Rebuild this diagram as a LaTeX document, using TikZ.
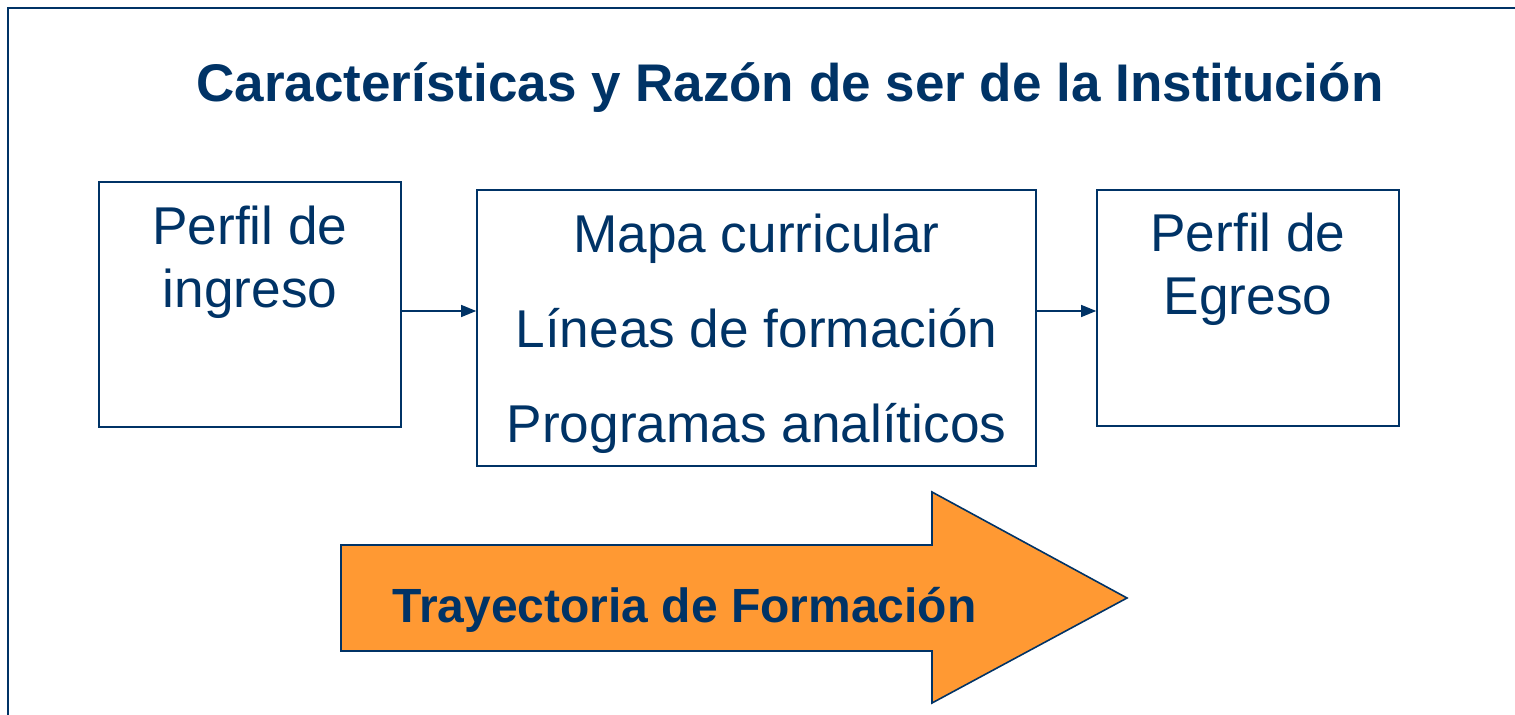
\documentclass[tikz,border=0pt]{standalone}
\usepackage{fontspec}
\setmainfont{Liberation Sans}
\usetikzlibrary{arrows.meta}
\definecolor{azul}{RGB}{0,51,102}
\definecolor{naranja}{RGB}{255,153,51}
\newcommand{\txt}{\fontsize{26.6}{31}\selectfont}

\begin{document}
\begin{tikzpicture}[x=0.5pt,y=-0.5pt,
   caja/.style={draw=azul,line width=0.8pt,inner sep=0pt},
   linea/.style={text=azul,inner sep=0pt,anchor=base,font=\txt},
   flecha/.style={draw=azul,line width=0.6pt,-{Triangle[length=7.5pt,width=6pt]}}]
   \useasboundingbox (0,0) rectangle (1515,715);
   \draw[azul,line width=1pt] (8,730) -- (8,8) -- (1530,8);
   \node[text=azul,inner sep=0pt,anchor=base,font=\bfseries\fontsize{26.5}{31}\selectfont]
      (titulo) at (790,102) {Características y Razón de ser de la Institución};
   \node[caja,minimum width=151pt,minimum height=122.5pt] (ingreso) at (250,304.5) {};
   \node[caja,minimum width=279.5pt,minimum height=138pt] (mapa) at (756.5,328) {};
   \node[caja,minimum width=151pt,minimum height=118pt] (egreso) at (1248,308) {};
   \node[linea] (ingA) at (250,245) {Perfil de};
   \node[linea] (ingB) at (250,308) {ingreso};
   \node[linea] (mapA) at (756.5,253) {Mapa curricular};
   \node[linea] (mapB) at (756.5,348) {Líneas de formación};
   \node[linea] (mapC) at (756.5,443) {Programas analíticos};
   \node[linea] (egrA) at (1248,252) {Perfil de};
   \node[linea] (egrB) at (1248,315) {Egreso};
   \draw[flecha] (ingreso.east |- 0,311) -- (mapa.west |- 0,311);
   \draw[flecha] (mapa.east |- 0,311) -- (egreso.west |- 0,311);
   \filldraw[fill=naranja,draw=azul,line width=0.8pt]
    (341,545) -- (932,545) -- (932,492) -- (1127,598) -- (932,703) -- (932,651) -- (341,651) -- cycle;
   \node[text=azul,inner sep=0pt,anchor=base west,font=\bfseries\fontsize{24}{28}\selectfont]
      (trayectoria) at (392,623) {Trayectoria de Formación};
\end{tikzpicture}
\end{document}
